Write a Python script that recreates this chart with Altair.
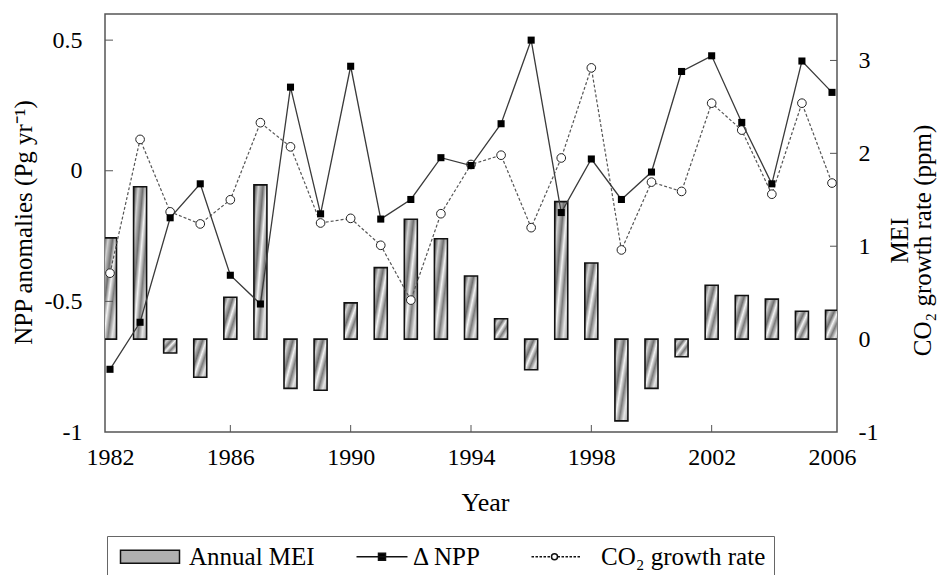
import altair as alt
import pandas as pd

# ---------------- data ----------------
years = list(range(1982, 2007))
npp = [-0.76, -0.58, -0.18, -0.05, -0.40, -0.51, 0.32, -0.165, 0.40, -0.185,
       -0.11, 0.05, 0.02, 0.18, 0.50, -0.16, 0.045, -0.11, -0.005, 0.38,
       0.44, 0.185, -0.05, 0.42, 0.30]
co2 = [0.71, 2.15, 1.37, 1.24, 1.50, 2.33, 2.07, 1.25, 1.30, 1.01,
       0.42, 1.35, 1.88, 1.98, 1.20, 1.95, 2.92, 0.96, 1.69, 1.59,
       2.54, 2.25, 1.56, 2.54, 1.68]
mei = [1.09, 1.64, -0.15, -0.41, 0.45, 1.66, -0.53, -0.55, 0.39, 0.77,
       1.29, 1.08, 0.68, 0.22, -0.33, 1.48, 0.82, -0.88, -0.53, -0.19,
       0.58, 0.47, 0.43, 0.30, 0.31]

x_ticks = [1982, 1986, 1990, 1994, 1998, 2002, 2006]
left_ticks = [-1, -0.5, 0, 0.5]
right_ticks = [-1, 0, 1, 2, 3]
legend_labels = ["Annual MEI", "Δ NPP", "CO₂ growth rate"]

# ---------------- style ----------------
W, H = 732, 418
FONT = "Liberation Serif"
INK = "#111111"

df = pd.DataFrame({"year": years, "npp": npp, "co2": co2, "mei": mei})
df["zero"] = 0.0

xscale = alt.Scale(domain=[1982, 2006], nice=False, zero=False)
lscale = alt.Scale(domain=[-1, 0.6], nice=False, zero=False)
rscale = alt.Scale(domain=[-1, 3.5], nice=False, zero=False)

common_axis = dict(ticks=False, tickSize=0, domain=False, grid=False,
                   labelFont=FONT, labelFontSize=24, labelColor="black",
                   titleFont=FONT, titleFontWeight="normal", titleColor="black")

xaxis = alt.Axis(title="Year", values=x_ticks, format="d", labelFlush=False,
                 labelPadding=13, titleFontSize=26, titleX=380, titleY=57,
                 titleBaseline="top", titleAlign="center", **common_axis)
laxis = alt.Axis(orient="left", title="NPP anomalies (Pg yr⁻¹)", values=left_ticks,
                 labelExpr="'' + datum.value", labelPadding=23, titleFontSize=25,
                 titleAngle=270, titleX=-82, titleY=208, titleBaseline="middle",
                 titleAlign="center", **common_axis)
raxis = alt.Axis(orient="right", title=["MEI", "CO₂ growth rate (ppm)"], values=right_ticks,
                 labelExpr="'' + datum.value", labelPadding=21, titleFontSize=25,
                 titleAngle=270, titleX=62, titleY=226, titleBaseline="middle",
                 titleAlign="center", titleLineHeight=23, **common_axis)

X = alt.X("year:Q", scale=xscale, axis=xaxis)

bar_fill = alt.LinearGradient(
    gradient="linear", x1=0, y1=0, x2=1, y2=1,
    stops=[alt.GradientStop(offset=0.0, color="#333333"),
           alt.GradientStop(offset=0.18, color="#d0d0d0"),
           alt.GradientStop(offset=0.36, color="#6e6e6e"),
           alt.GradientStop(offset=0.50, color="#f4f4f4"),
           alt.GradientStop(offset=0.66, color="#7a7a7a"),
           alt.GradientStop(offset=0.82, color="#e6e6e6"),
           alt.GradientStop(offset=1.0, color="#a0a0a0")])

# ---------------- right-scale group: MEI bars + CO2 ----------------
bars = alt.Chart(df).mark_bar(size=13, clip=True, fill=bar_fill, stroke=INK,
                              strokeWidth=1.6).encode(
    x=X, y=alt.Y("mei:Q", scale=rscale, axis=raxis), y2=alt.Y2("zero"))

co2_line = alt.Chart(df).mark_line(color="#555555", strokeWidth=1.2,
                                   strokeDash=[3, 2]).encode(
    x=X, y=alt.Y("co2:Q", scale=rscale, axis=raxis))

co2_pts = alt.Chart(df).mark_point(shape="circle", filled=True, fill="white",
                                   stroke="#222222", strokeWidth=1, size=75,
                                   opacity=1).encode(
    x=X, y=alt.Y("co2:Q", scale=rscale, axis=raxis))

rticks = alt.Chart(pd.DataFrame({"t": right_ticks[1:]})).mark_rule(
    color="#555555", strokeWidth=1).encode(
    y=alt.Y("t:Q", scale=rscale, axis=raxis), x=alt.value(W), x2=alt.value(W - 7))

# legend (drawn by Vega's legend from a clipped, off-domain helper layer)
def dashes(a, b, on=0.25, off=0.15):
    out, p = [], a
    while p < b:
        q = min(p + on, b)
        out.append(f"M{p:.2f},0H{q:.2f}")
        p = q + off
    return "".join(out)

mei_sym = "M-0.7,-0.65H5.2V0.65H-0.7Z"
npp_sym = "M0.5,0H5.6M2.7,-0.35H3.4V0.35H2.7Z"
co2_sym = ("M-3,0" + dashes(-0.8, 1.2) + dashes(1.8, 4.1) +
           "M1.8,0A0.3,0.3 0 1,1 1.2,0A0.3,0.3 0 1,1 1.8,0Z")

leg = alt.Legend(title=None, orient="none", legendX=2, legendY=522,
                 direction="horizontal", strokeColor="#666666", fillColor="white",
                 padding=8, symbolSize=400, symbolStrokeWidth=1.5,
                 labelFont=FONT, labelFontSize=25, labelColor="black",
                 labelOffset=49, columnPadding=24, labelLimit=400)

leg_df = pd.DataFrame({"series": legend_labels, "yr": [1970] * 3, "v": [0.0] * 3})
legend_layer = alt.Chart(leg_df).mark_point(filled=True, clip=True, opacity=1,
                                            size=10).encode(
    x=alt.X("yr:Q", scale=xscale, axis=xaxis),
    y=alt.Y("v:Q", scale=rscale, axis=raxis),
    shape=alt.Shape("series:N", legend=leg,
                    scale=alt.Scale(domain=legend_labels,
                                    range=[mei_sym, npp_sym, co2_sym])),
    fill=alt.Fill("series:N", legend=leg,
                  scale=alt.Scale(domain=legend_labels,
                                  range=["#b0b0b0", "#000000", "#ffffff"])),
    stroke=alt.Stroke("series:N", legend=leg,
                      scale=alt.Scale(domain=legend_labels,
                                      range=[INK, INK, INK])))

right_group = alt.layer(bars, co2_line, co2_pts, rticks, legend_layer)

# ---------------- left-scale group: NPP ----------------
npp_line = alt.Chart(df).mark_line(color="#3a3a3a", strokeWidth=1.3).encode(
    x=X, y=alt.Y("npp:Q", scale=lscale, axis=laxis))
npp_pts = alt.Chart(df).mark_square(color="black", size=50, opacity=1).encode(
    x=X, y=alt.Y("npp:Q", scale=lscale, axis=laxis))
lticks = alt.Chart(pd.DataFrame({"t": left_ticks[1:]})).mark_rule(
    color="#555555", strokeWidth=1).encode(
    y=alt.Y("t:Q", scale=lscale, axis=laxis), x=alt.value(0), x2=alt.value(8))
xticks = alt.Chart(pd.DataFrame({"t": x_ticks[1:-1]})).mark_rule(
    color="#555555", strokeWidth=1).encode(
    x=alt.X("t:Q", scale=xscale, axis=xaxis), y=alt.value(H), y2=alt.value(H - 7))

left_group = alt.layer(npp_line, npp_pts, lticks, xticks)

chart = alt.layer(right_group, left_group).resolve_scale(
    y="independent").properties(
    width=W, height=H,
    padding={"left": 105, "top": 14, "right": 102, "bottom": 143},
    autosize=alt.AutoSizeParams(type="none"),
    background="white",
).configure_view(stroke="#555555", strokeWidth=1.5)

chart.save("out.html", embed_options={"renderer": "svg", "actions": False})
